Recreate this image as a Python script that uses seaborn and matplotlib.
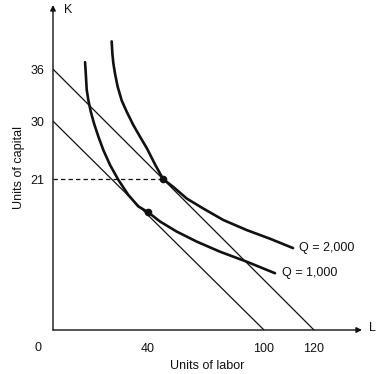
import numpy as np
import pandas as pd
import matplotlib.pyplot as plt
import seaborn as sns

sns.set_theme(style="white")
plt.rcParams['font.family'] = ['Liberation Sans', 'DejaVu Sans']

# isocost lines (intercepts)
iso1_L = [0, 100]
iso1_K = [30, 0]
iso2_L = [0, 120]
iso2_K = [36, 0]

# isoquants
q1000_L = [13.5, 13.8, 14.2, 14.9, 15.9, 17.3, 19.1, 21.2, 24.0, 27.5, 31.7, 35.9,
           40.0, 46.2, 54.8, 65.2, 77.2, 91.1, 104.4]
q1000_K = [36.8, 35.5, 33.6, 32.4, 31.1, 29.6, 27.6, 25.5, 23.2, 20.9, 18.8, 17.2,
           16.4, 15.1, 13.7, 12.3, 10.9, 9.5, 7.9]
q2000_L = [24.7, 25.0, 25.4, 26.1, 27.2, 28.9, 31.0, 33.8, 36.6, 39.5, 43.6, 47.8,
           53.1, 60.0, 68.6, 79.0, 91.1, 102.4, 111.6]
q2000_K = [39.2, 37.8, 36.7, 35.5, 34.0, 32.4, 31.1, 29.4, 27.6, 25.8, 23.3, 21.0,
           19.9, 18.3, 16.9, 15.3, 13.9, 12.7, 11.4]

# tangency points
opt_L = [40.0, 47.8]
opt_K = [16.4, 21.0]

# the sketch is not drawn to scale: piecewise axis mapping
x_knots = [-50, 0, 40, 100, 120, 300]
x_px = [-118, 0, 95, 211, 261, 711]
y_knots = [-50, 0, 21, 30, 36, 200]
y_px = [-360, 0, 151, 209, 261, 1683]


def fx(v):
    return np.interp(v, x_knots, x_px)


def fx_inv(v):
    return np.interp(v, x_px, x_knots)


def fy(v):
    return np.interp(v, y_knots, y_px)


def fy_inv(v):
    return np.interp(v, y_px, y_knots)


ink = '#111'
fs = 9

fig = plt.figure(figsize=(3.78, 3.74), dpi=100)
ax = fig.add_axes([53 / 378, 44 / 374, 309 / 378, 325 / 374])
ax.set_xscale('function', functions=(fx, fx_inv))
ax.set_yscale('function', functions=(fy, fy_inv))
ax.set_xlim(0, 139.2)
ax.set_ylim(0, 43.4)

df1 = pd.DataFrame({'L': q1000_L, 'K': q1000_K})
df2 = pd.DataFrame({'L': q2000_L, 'K': q2000_K})
sns.lineplot(data=df1, x='L', y='K', sort=False, estimator=None, color=ink, lw=1.9, ax=ax)
sns.lineplot(data=df2, x='L', y='K', sort=False, estimator=None, color=ink, lw=1.9, ax=ax)
ax.plot(iso1_L, iso1_K, color=ink, lw=0.9)
ax.plot(iso2_L, iso2_K, color=ink, lw=0.9)
ax.plot([0, opt_L[1]], [opt_K[1], opt_K[1]], color=ink, lw=0.9, ls=(0, (3.5, 2.5)))
ax.plot(opt_L, opt_K, 'o', color=ink, ms=4.5)

ax.text(q2000_L[-1] + 2.5, q2000_K[-1], 'Q = 2,000', fontsize=fs, va='center', color=ink)
ax.text(q1000_L[-1] + 3, q1000_K[-1], 'Q = 1,000', fontsize=fs, va='center', color=ink)

for s in ax.spines.values():
    s.set_visible(False)
arrow = dict(arrowstyle='-|>', lw=1.0, color=ink, mutation_scale=8, shrinkA=0, shrinkB=0)
ax.annotate('', xy=(1, 0), xytext=(0, 0), xycoords='axes fraction', arrowprops=arrow)
ax.annotate('', xy=(0, 1), xytext=(0, 0), xycoords='axes fraction', arrowprops=arrow)
ax.text(1.035, 0.005, 'L', transform=ax.transAxes, fontsize=fs, va='center', ha='center', color=ink)
ax.text(0.05, 0.985, 'K', transform=ax.transAxes, fontsize=fs, va='center', ha='center', color=ink)

ax.set_xticks([100, 120])
ax.set_xticklabels(['100', '120'])
ax.set_xticks([40], minor=True)
ax.set_xticklabels(['40'], minor=True)
ax.set_yticks([30, 36])
ax.set_yticklabels(['30', '36'])
ax.set_yticks([21], minor=True)
ax.set_yticklabels(['21'], minor=True)
ax.tick_params(which='major', direction='in', length=4, width=0.9, color=ink)
ax.tick_params(which='minor', length=0)
ax.tick_params(axis='x', which='both', pad=9, labelsize=fs, labelcolor=ink)
ax.tick_params(axis='y', which='both', pad=6, labelsize=fs, labelcolor=ink)
ax.annotate('0', xy=(0, 0), xytext=(-15, -18), textcoords='offset pixels',
            fontsize=fs, ha='center', va='center', color=ink)

ax.set_xlabel('Units of labor', fontsize=fs, color=ink, labelpad=4)
ax.set_ylabel('Units of capital', fontsize=fs, color=ink, labelpad=4)

fig.savefig('out.png', dpi=100)
